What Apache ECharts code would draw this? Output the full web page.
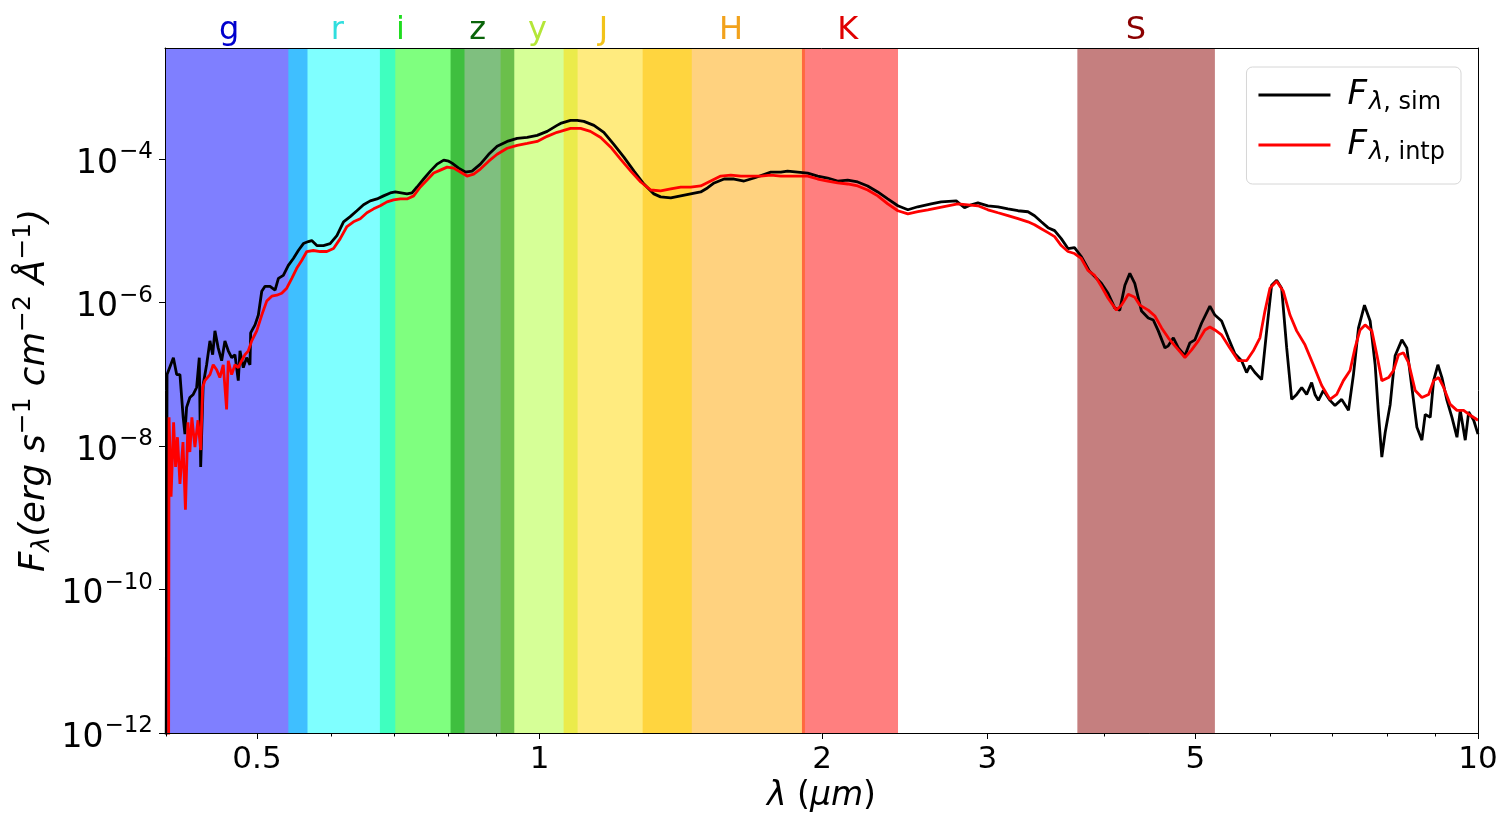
<!DOCTYPE html>
<html>
<head>
<meta charset="utf-8">
<script src="https://cdn.jsdelivr.net/npm/echarts@6/dist/echarts.min.js"></script>
<style>
  html, body { margin: 0; padding: 0; background: #fff; }
  #main { width: 1503px; height: 818px; }
</style>
</head>
<body>
<div id="main"></div>
<script>
// wavelength (um) and flux (erg s^-1 cm^-2 A^-1)
var lamSim = [0.400, 0.401, 0.4073, 0.4106, 0.4139, 0.4172, 0.4190, 0.4207, 0.4241, 0.4276,
  0.4312, 0.4340, 0.4355, 0.4382, 0.4419, 0.4455, 0.4485, 0.4510, 0.4546, 0.4585,
  0.4622, 0.4660, 0.4699, 0.4737, 0.4776, 0.4796, 0.4835, 0.4875, 0.4915, 0.4923,
  0.4976, 0.5017, 0.5059, 0.5100, 0.5163, 0.5227, 0.5270, 0.5334, 0.5400, 0.5467,
  0.5534, 0.5603, 0.5672, 0.5719, 0.5791, 0.5886, 0.5983, 0.6083, 0.6183, 0.6285,
  0.6389, 0.6494, 0.6602, 0.6712, 0.6821, 0.6934, 0.7020, 0.7225, 0.7314, 0.7405,
  0.7526, 0.7651, 0.7778, 0.7906, 0.8003, 0.8070, 0.8201, 0.8336, 0.8475, 0.8650,
  0.8828, 0.9013, 0.9237, 0.9467, 0.9703, 0.9943, 1.019, 1.044, 1.053, 1.079,
  1.097, 1.115, 1.143, 1.171, 1.200, 1.230, 1.261, 1.292, 1.324, 1.346,
  1.380, 1.414, 1.449, 1.485, 1.510, 1.535, 1.573, 1.612, 1.652, 1.693,
  1.764, 1.808, 1.838, 1.884, 1.931, 1.979, 2.028, 2.078, 2.130, 2.183,
  2.237, 2.293, 2.350, 2.409, 2.469, 2.530, 2.614, 2.679, 2.780, 2.837,
  2.884, 2.932, 3.005, 3.080, 3.156, 3.235, 3.315, 3.369, 3.425, 3.482,
  3.539, 3.597, 3.657, 3.716, 3.778, 3.856, 3.969, 4.035, 4.102, 4.152,
  4.205, 4.256, 4.308, 4.380, 4.453, 4.508, 4.564, 4.639, 4.677, 4.736,
  4.794, 4.872, 4.932, 4.993, 5.076, 5.180, 5.244, 5.331, 5.419, 5.508,
  5.599, 5.668, 5.715, 5.785, 5.881, 5.954, 6.027, 6.102, 6.177, 6.254,
  6.331, 6.409, 6.489, 6.568, 6.649, 6.703, 6.760, 6.843, 6.955, 7.041,
  7.157, 7.278, 7.367, 7.459, 7.569, 7.675, 7.770, 7.834, 7.898, 7.964,
  8.062, 8.160, 8.296, 8.398, 8.503, 8.608, 8.714, 8.785, 8.894, 8.968,
  9.063, 9.153, 9.267, 9.381, 9.497, 9.574, 9.692, 9.774, 9.895, 10.0];
var fluxSim = [1e-13, 9.93e-8, 1.71e-7, 9.93e-8, 9.93e-8, 2.52e-8, 1.47e-8, 3.47e-8, 4.76e-8, 5.25e-8,
  6.56e-8, 1.71e-7, 5.12e-9, 7.21e-8, 1.36e-7, 2.93e-7, 1.88e-7, 4.04e-7, 2.34e-7, 1.55e-7,
  2.93e-7, 2.13e-7, 1.71e-7, 1.88e-7, 8.18e-8, 2.13e-7, 1.24e-7, 1.71e-7, 1.36e-7, 3.78e-7,
  4.89e-7, 6.71e-7, 1.44e-6, 1.69e-6, 1.69e-6, 1.49e-6, 2.18e-6, 2.40e-6, 3.30e-6, 4.13e-6,
  5.33e-6, 6.66e-6, 7.10e-6, 7.33e-6, 6.25e-6, 6.25e-6, 6.66e-6, 8.59e-6, 1.34e-5, 1.58e-5,
  1.91e-5, 2.31e-5, 2.62e-5, 2.79e-5, 3.08e-5, 3.38e-5, 3.49e-5, 3.28e-5, 3.38e-5, 4.09e-5,
  5.29e-5, 6.82e-5, 8.53e-5, 9.69e-5, 9.38e-5, 8.81e-5, 7.50e-5, 6.61e-5, 6.82e-5, 8.53e-5,
  1.17e-4, 1.51e-4, 1.77e-4, 1.95e-4, 2.01e-4, 2.15e-4, 2.44e-4, 2.96e-4, 3.15e-4, 3.47e-4,
  3.47e-4, 3.36e-4, 2.96e-4, 2.37e-4, 1.61e-4, 1.07e-4, 6.82e-5, 4.51e-5, 3.28e-5, 2.98e-5,
  2.89e-5, 3.08e-5, 3.28e-5, 3.49e-5, 3.97e-5, 4.66e-5, 5.29e-5, 5.29e-5, 4.96e-5, 5.46e-5,
  6.61e-5, 6.61e-5, 6.82e-5, 6.61e-5, 6.40e-5, 5.82e-5, 5.46e-5, 4.96e-5, 5.12e-5, 4.81e-5,
  4.23e-5, 3.49e-5, 2.79e-5, 2.24e-5, 1.97e-5, 2.17e-5, 2.38e-5, 2.54e-5, 2.62e-5, 2.10e-5,
  2.31e-5, 2.46e-5, 2.24e-5, 2.17e-5, 2.03e-5, 1.91e-5, 1.85e-5, 1.63e-5, 1.34e-5, 1.11e-5,
  1.01e-5, 7.81e-6, 5.68e-6, 5.86e-6, 4.40e-6, 2.73e-6, 1.86e-6, 1.35e-6, 8.40e-7, 7.87e-7,
  1.75e-6, 2.56e-6, 1.86e-6, 7.62e-7, 6.10e-7, 5.73e-7, 4.04e-7, 2.34e-7, 2.50e-7, 3.23e-7,
  2.34e-7, 1.82e-7, 2.75e-7, 3.03e-7, 5.20e-7, 8.95e-7, 6.71e-7, 5.55e-7, 3.23e-7, 1.94e-7,
  1.55e-7, 1.06e-7, 1.32e-7, 1.06e-7, 8.45e-8, 4.04e-7, 1.75e-6, 2.05e-6, 1.59e-6, 2.34e-7,
  4.48e-8, 5.25e-8, 6.56e-8, 5.25e-8, 7.69e-8, 5.25e-8, 4.34e-8, 5.96e-8, 4.34e-8, 3.69e-8,
  4.48e-8, 3.15e-8, 9.93e-8, 4.44e-7, 9.20e-7, 5.55e-7, 1.36e-7, 2.77e-8, 7.04e-9, 1.56e-8,
  3.81e-8, 1.82e-7, 3.03e-7, 2.34e-7, 6.56e-8, 1.83e-8, 1.21e-8, 2.77e-8, 2.52e-8, 8.18e-8,
  1.36e-7, 9.02e-8, 4.34e-8, 2.52e-8, 1.33e-8, 3.15e-8, 1.21e-8, 3.00e-8, 2.29e-8, 1.47e-8];

var lamIntp = [0.4025, 0.4030, 0.4050, 0.4075, 0.4095, 0.4114, 0.4139, 0.4170, 0.4195, 0.4221,
  0.4241, 0.4262, 0.4294, 0.4326, 0.4355, 0.4376, 0.4400, 0.4455, 0.4491, 0.4529,
  0.4565, 0.4603, 0.4641, 0.4660, 0.4699, 0.4737, 0.4776, 0.4816, 0.4855, 0.4895,
  0.4936, 0.4997, 0.5059, 0.5121, 0.5185, 0.5249, 0.5313, 0.5379, 0.5446, 0.5512,
  0.5580, 0.5650, 0.5742, 0.5839, 0.5935, 0.6033, 0.6133, 0.6235, 0.6336, 0.6442,
  0.6548, 0.6657, 0.6766, 0.6879, 0.6991, 0.7108, 0.7225, 0.7344, 0.7465, 0.7589,
  0.7713, 0.7841, 0.7972, 0.8102, 0.8235, 0.8371, 0.8509, 0.8650, 0.8828, 0.9013,
  0.9237, 0.9467, 0.9703, 0.9943, 1.019, 1.044, 1.053, 1.079, 1.106, 1.133,
  1.162, 1.191, 1.220, 1.251, 1.282, 1.314, 1.346, 1.380, 1.414, 1.449,
  1.485, 1.522, 1.560, 1.599, 1.639, 1.721, 1.764, 1.808, 1.931, 1.979,
  2.028, 2.078, 2.130, 2.183, 2.237, 2.293, 2.350, 2.409, 2.469, 2.530,
  2.593, 2.657, 2.723, 2.791, 2.861, 2.932, 3.005, 3.080, 3.156, 3.235,
  3.315, 3.369, 3.425, 3.482, 3.539, 3.597, 3.657, 3.716, 3.778, 3.840,
  3.904, 3.969, 4.035, 4.119, 4.170, 4.240, 4.308, 4.362, 4.453, 4.526,
  4.601, 4.677, 4.754, 4.833, 4.872, 4.953, 5.035, 5.117, 5.180, 5.244,
  5.331, 5.440, 5.554, 5.668, 5.762, 5.857, 5.929, 6.002, 6.102, 6.203,
  6.305, 6.409, 6.541, 6.676, 6.815, 6.955, 7.071, 7.187, 7.306, 7.396,
  7.488, 7.580, 7.707, 7.802, 7.898, 8.030, 8.128, 8.229, 8.330, 8.433,
  8.572, 8.714, 8.860, 8.968, 9.080, 9.192, 9.342, 9.497, 9.654, 9.813,
  10.0];
var fluxIntp = [1e-13, 2.52e-8, 1.97e-9, 2.15e-8, 5.12e-9, 1.33e-8, 2.98e-9, 1.14e-8, 1.30e-9, 2.15e-8,
  8.26e-9, 2.52e-8, 9.69e-9, 2.29e-8, 8.81e-9, 6.56e-8, 8.18e-8, 9.93e-8, 1.36e-7, 1.16e-7,
  9.02e-8, 1.36e-7, 3.25e-8, 1.55e-7, 9.93e-8, 1.36e-7, 1.24e-7, 1.55e-7, 1.88e-7, 2.13e-7,
  2.93e-7, 4.04e-7, 6.71e-7, 1.05e-6, 1.23e-6, 1.27e-6, 1.35e-6, 1.59e-6, 2.18e-6, 3.01e-6,
  3.87e-6, 5.16e-6, 5.33e-6, 5.16e-6, 5.16e-6, 5.68e-6, 7.81e-6, 1.15e-5, 1.34e-5, 1.48e-5,
  1.79e-5, 2.03e-5, 2.24e-5, 2.54e-5, 2.71e-5, 2.79e-5, 2.79e-5, 3.08e-5, 4.09e-5, 5.12e-5,
  6.40e-5, 7.04e-5, 7.75e-5, 7.50e-5, 6.61e-5, 5.82e-5, 6.20e-5, 7.27e-5, 9.38e-5, 1.17e-4,
  1.42e-4, 1.56e-4, 1.66e-4, 1.77e-4, 2.08e-4, 2.37e-4, 2.44e-4, 2.69e-4, 2.69e-4, 2.44e-4,
  2.01e-4, 1.47e-4, 1.00e-4, 6.82e-5, 4.81e-5, 3.72e-5, 3.61e-5, 3.85e-5, 4.09e-5, 4.09e-5,
  4.23e-5, 4.96e-5, 5.82e-5, 6.01e-5, 5.82e-5, 5.82e-5, 6.01e-5, 5.82e-5, 5.82e-5, 5.29e-5,
  4.96e-5, 4.66e-5, 4.51e-5, 4.23e-5, 3.72e-5, 3.08e-5, 2.38e-5, 1.91e-5, 1.73e-5, 1.85e-5,
  1.97e-5, 2.10e-5, 2.24e-5, 2.38e-5, 2.31e-5, 2.24e-5, 1.97e-5, 1.79e-5, 1.63e-5, 1.48e-5,
  1.34e-5, 1.22e-5, 1.07e-5, 9.46e-6, 8.32e-6, 6.25e-6, 5.16e-6, 4.84e-6, 4.13e-6, 2.82e-6,
  2.40e-6, 1.69e-6, 1.15e-6, 7.87e-7, 9.23e-7, 1.31e-6, 1.19e-6, 9.23e-7, 7.87e-7, 6.50e-7,
  4.44e-7, 3.23e-7, 2.50e-7, 1.94e-7, 1.71e-7, 2.20e-7, 2.93e-7, 4.16e-7, 4.58e-7, 4.16e-7,
  3.55e-7, 2.34e-7, 1.55e-7, 1.55e-7, 2.13e-7, 3.23e-7, 7.62e-7, 1.59e-6, 1.99e-6, 1.44e-6,
  6.71e-7, 4.04e-7, 2.58e-7, 1.36e-7, 6.98e-8, 4.48e-8, 5.25e-8, 8.18e-8, 1.13e-7, 2.34e-7,
  4.16e-7, 4.89e-7, 4.04e-7, 1.88e-7, 8.18e-8, 9.02e-8, 1.13e-7, 1.88e-7, 2.00e-7, 1.46e-7,
  5.96e-8, 4.76e-8, 5.25e-8, 8.18e-8, 9.02e-8, 6.56e-8, 3.81e-8, 3.15e-8, 3.15e-8, 2.69e-8,
  2.29e-8];

// filter bands (um)
var bandNames = ['g', 'r', 'i', 'z', 'y', 'J', 'H', 'K', 'S'];
var bandLo = [0.399, 0.540, 0.676, 0.804, 0.909, 1.061, 1.288, 1.904, 3.742];
var bandHi = [0.566, 0.702, 0.832, 0.940, 1.098, 1.453, 1.918, 2.410, 5.244];
var bandLabelAt = [0.467, 0.609, 0.711, 0.859, 0.995, 1.17, 1.60, 2.13, 4.32];

// axis ticks
var xMajorTicks = [0.5, 1, 2, 3, 5, 10];
var xMinorTicks = [0.4, 0.6, 0.7, 0.8, 0.9, 4, 6, 7, 8, 9];
var yTickExps = [-12, -10, -8, -6, -4];
var xRange = [0.399, 10];
var yExpRange = [-12, -2.45];

var bandColors = ['rgba(0,0,255,0.5)', 'rgba(0,255,255,0.5)', 'rgba(0,255,0,0.5)', 'rgba(0,128,0,0.5)',
  'rgba(173,255,47,0.5)', 'rgba(255,215,0,0.5)', 'rgba(255,165,0,0.5)', 'rgba(255,0,0,0.5)', 'rgba(139,0,0,0.5)'];
var labelColors = ['#0000cd', '#30dede', '#1fdc1f', '#0a640a', '#b4e638', '#f2c31a', '#f2a21c', '#e00000', '#8b0000'];
var bandOrder = [0, 2, 1, 4, 3, 6, 5, 7, 8];

var FONT = 'DejaVu Sans';
var lg = Math.log10;

function pairs(lams, flux) {
  return lams.map(function (l, i) { return [lg(l), lg(flux[i])]; });
}

var areas = bandOrder.map(function (i) {
  return [{ xAxis: lg(bandLo[i]), itemStyle: { color: bandColors[i], opacity: 1 } },
          { xAxis: lg(bandHi[i]) }];
});

var letterRich = {};
bandNames.forEach(function (n, i) {
  letterRich['c' + i] = { color: labelColors[i], fontSize: 32, fontFamily: FONT };
});

function fmtLam(v) {
  var l = Math.pow(10, v);
  return String(Math.round(l * 10) / 10);
}

var chart = echarts.init(document.getElementById('main'));
chart.setOption({
  animation: false,
  backgroundColor: '#fff',
  grid: { left: 165, right: 25, top: 48, bottom: 80, containLabel: false },
  legend: {
    data: ['sim', 'intp'],
    orient: 'vertical',
    right: 42,
    top: 67,
    icon: 'rect',
    itemWidth: 72,
    itemHeight: 3,
    itemGap: 13,
    padding: [11, 16, 19, 12],
    backgroundColor: '#fff',
    borderColor: '#d6d6d6',
    borderWidth: 1,
    borderRadius: 6,
    textStyle: {
      padding: [0, 0, 0, 12],
      rich: {
        f: { fontSize: 34, fontStyle: 'italic', fontFamily: FONT, color: '#000' },
        l: { fontSize: 24, fontStyle: 'italic', fontFamily: FONT, color: '#000', padding: [16, 0, 0, 2] },
        s: { fontSize: 24, fontFamily: FONT, color: '#000', padding: [16, 0, 0, 0] }
      }
    },
    formatter: function (name) {
      return '{f|F}{l|λ}{s|, ' + name + '}';
    }
  },
  xAxis: [{
    type: 'value', position: 'bottom', min: lg(xRange[0]), max: lg(xRange[1]), z: 5,
    axisLine: { show: true, onZero: false, lineStyle: { color: '#000', width: 1 } },
    axisTick: { show: true, length: 6, customValues: xMajorTicks.map(lg), lineStyle: { color: '#000' } },
    axisLabel: { customValues: xMajorTicks.map(lg), formatter: fmtLam, color: '#000', fontSize: 31, fontFamily: FONT, margin: 11 },
    splitLine: { show: false },
    name: '{i|λ}{n| (}{i|μm}{n|)}', nameLocation: 'middle', nameGap: 47,
    nameTextStyle: { rich: {
      i: { fontSize: 33, fontStyle: 'italic', fontFamily: FONT, color: '#000' },
      n: { fontSize: 33, fontFamily: FONT, color: '#000' }
    } }
  }, {
    type: 'value', position: 'bottom', min: lg(xRange[0]), max: lg(xRange[1]), z: 5,
    axisLine: { show: false, onZero: false },
    axisTick: { show: true, length: 3.5, customValues: xMinorTicks.map(lg), lineStyle: { color: '#000' } },
    axisLabel: { show: false },
    splitLine: { show: false }
  }, {
    type: 'value', position: 'top', min: lg(xRange[0]), max: lg(xRange[1]), z: 5,
    axisLine: { show: true, onZero: false, lineStyle: { color: '#000', width: 1 } },
    axisTick: { show: false },
    axisLabel: {
      customValues: bandLabelAt.map(lg), margin: 1,
      formatter: function (v) {
        var best = 0;
        bandLabelAt.forEach(function (l, i) {
          if (Math.abs(lg(l) - v) < Math.abs(lg(bandLabelAt[best]) - v)) best = i;
        });
        return '{c' + best + '|' + bandNames[best] + '}';
      },
      rich: letterRich
    },
    splitLine: { show: false }
  }],
  yAxis: [{
    type: 'value', position: 'left', min: yExpRange[0], max: yExpRange[1], interval: 2, z: 5,
    axisLine: { show: true, onZero: false, lineStyle: { color: '#000', width: 1 } },
    axisTick: { show: true, length: 6, customValues: yTickExps, lineStyle: { color: '#000' } },
    axisLabel: {
      margin: 12,
      padding: [10, 0, 0, 0],
      customValues: yTickExps,
      formatter: function (v) { return '{b|10}{s|−' + Math.abs(v) + '}'; },
      rich: {
        b: { fontSize: 33, fontFamily: FONT, color: '#000' },
        s: { fontSize: 23, fontFamily: FONT, color: '#000', padding: [0, 0, 24, 1] }
      }
    },
    splitLine: { show: false },
    name: '{i|F}{sb|λ}{i|(erg s}{sp|−1}{i| cm}{sp|−2}{i| Å}{sp|−1}{i|)}',
    nameLocation: 'middle', nameRotate: 90, nameGap: 106, nameMoveOverlap: false,
    nameTextStyle: { rich: {
      i: { fontSize: 35.5, fontStyle: 'italic', fontFamily: FONT, color: '#000' },
      sb: { fontSize: 25, fontStyle: 'italic', fontFamily: FONT, color: '#000', padding: [15, 0, 0, 0] },
      sp: { fontSize: 25, fontFamily: FONT, color: '#000', padding: [0, 0, 23, 0] }
    } }
  }, {
    type: 'value', position: 'right', min: yExpRange[0], max: yExpRange[1], z: 5,
    axisLine: { show: true, onZero: false, lineStyle: { color: '#000', width: 1 } },
    axisTick: { show: false }, axisLabel: { show: false }, splitLine: { show: false }
  }],
  series: [{
    name: 'bands', type: 'line', data: [], z: 1, silent: true,
    markArea: { silent: true, data: areas }
  }, {
    name: 'sim', type: 'line', data: pairs(lamSim, fluxSim),
    color: '#000', showSymbol: false, symbol: 'none', clip: true, z: 2,
    lineStyle: { color: '#000', width: 2.8 }
  }, {
    name: 'intp', type: 'line', data: pairs(lamIntp, fluxIntp),
    color: '#ff0000', showSymbol: false, symbol: 'none', clip: true, z: 3,
    lineStyle: { color: '#ff0000', width: 2.8 }
  }]
});
</script>
</body>
</html>
